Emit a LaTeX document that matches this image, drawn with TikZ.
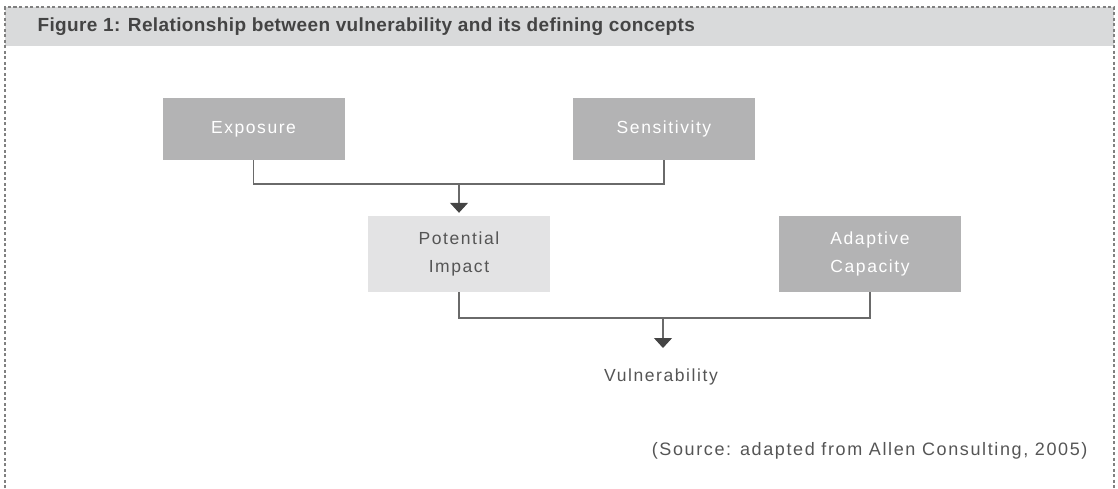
\documentclass[tikz,border=0pt]{standalone}
\usepackage{fontspec}
\setmainfont{Liberation Sans}
\usetikzlibrary{arrows.meta}
\definecolor{bandgrey}{HTML}{D9DADB}
\definecolor{boxdark}{HTML}{B3B3B4}
\definecolor{boxlight}{HTML}{E3E3E4}
\definecolor{inkgrey}{HTML}{555555}
\definecolor{linegrey}{HTML}{6A6A6A}
\definecolor{tipgrey}{HTML}{444444}
\newfontfamily\spacedfont[LetterSpace=9]{Liberation Sans}
\newfontfamily\titlefont[LetterSpace=2]{Liberation Sans}
\tikzset{
	darkbox/.style={fill=boxdark, text=white, minimum width=182, minimum height=62, inner sep=0pt, font=\spacedfont\fontsize{17.5}{28}\selectfont, align=center},
	lightbox/.style={darkbox, fill=boxlight, text=inkgrey, minimum height=76},
	tallbox/.style={darkbox, minimum height=76},
	joinline/.style={draw=linegrey, line width=1.1},
	downarrow/.style={joinline, -{Triangle[length=10, width=18]}, arrows={[color=tipgrey]}}
}
\begin{document}
\begin{tikzpicture}[x=1pt, y=-1pt]
	\useasboundingbox (0,0) rectangle (1118,488);
	\fill[bandgrey] (5,7) rectangle (1114,46); %titelband
	\draw[gray, line width=1.2, dash pattern=on 3 off 2.5] (5,488) -- (5,7) -- (1114,7) -- (1114,488); %rahmen
	\node[anchor=west, text=tipgrey, font=\titlefont\bfseries\fontsize{19}{22}\selectfont] (title) at (34,27) {Figure 1: Relationship between vulnerability and its defining concepts};

	\node[darkbox] (expo) at (253.5,129) {Exposure};
	\node[darkbox] (sens) at (664,129) {Sensitivity};
	\node[lightbox] (pot) at (459,254) {Potential\\Impact};
	\node[tallbox] (adap) at (870,254) {Adaptive\\Capacity};
	\node[text=inkgrey, font=\spacedfont\fontsize{17.5}{28}\selectfont] (vuln) at (661,377) {Vulnerability};
	\node[anchor=east, text=inkgrey, font=\spacedfont\fontsize{18}{28}\selectfont] (src) at (1091,451) {(Source: adapted from Allen Consulting, 2005)};

	\coordinate (jointop) at (459,184);
	\coordinate (joinbot) at (663,318);
	\draw[joinline] (expo.south) |- (jointop) -| (sens.south); %oben
	\draw[downarrow, shorten >=3] (jointop) -- (pot.north);
	\draw[joinline] (pot.south) |- (joinbot) -| (adap.south); %unten
	\draw[downarrow] (joinbot) -- (663,348);
\end{tikzpicture}
\end{document}
